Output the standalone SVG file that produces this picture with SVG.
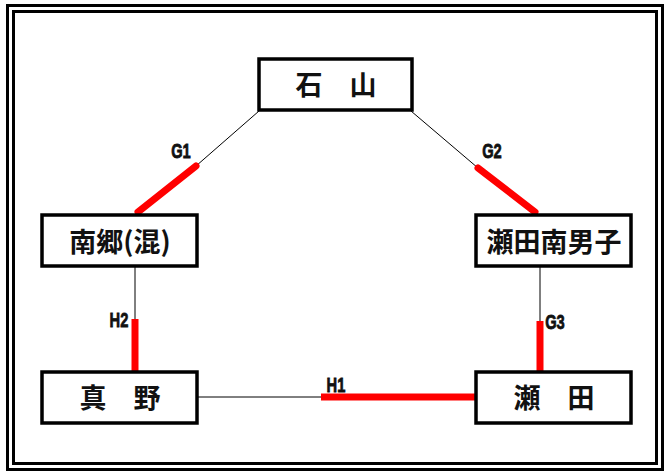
<svg xmlns="http://www.w3.org/2000/svg" width="669" height="475" viewBox="0 0 669 475">
<style>
.frame{fill:none;stroke:#000;stroke-width:3}
.box{fill:#fff;stroke:#000;stroke-width:3.5}
.name{font-family:"Noto Sans CJK JP","Noto Sans CJK SC",sans-serif;font-size:27px;font-weight:bold;fill:#111;text-anchor:middle}
.thin{stroke:#000;stroke-width:1;fill:none}
.red{stroke:#f00;stroke-width:7;fill:none;stroke-linecap:round}
.redh{stroke:#f00;stroke-width:7;fill:none}
.lbl{font-family:"Liberation Sans",Arial,sans-serif;font-size:21px;font-weight:bold;fill:#111;stroke:#111;stroke-width:0.8;text-anchor:middle}
</style>
<rect x="0" y="0" width="669" height="475" fill="#fff"/>
<rect class="frame" x="7.5" y="5.5" width="655" height="464"/>
<rect class="frame" x="13.5" y="11.5" width="643" height="452"/>
<g id="connectors">
<line class="thin" x1="259" y1="111" x2="196" y2="166"/>
<line class="red" x1="196" y1="166" x2="138" y2="212"/>
<text class="lbl" x="181" y="158" transform="translate(181 0) scale(0.7 1) translate(-181 0)">G1</text>
<line class="thin" x1="411" y1="111" x2="478" y2="168"/>
<line class="red" x1="478" y1="168" x2="535" y2="212"/>
<text class="lbl" x="492" y="158" transform="translate(492 0) scale(0.7 1) translate(-492 0)">G2</text>
<line class="thin" x1="540" y1="266" x2="540" y2="322"/>
<line class="redh" x1="540" y1="321" x2="540" y2="371"/>
<text class="lbl" x="555" y="329" transform="translate(555 0) scale(0.7 1) translate(-555 0)">G3</text>
<line class="thin" x1="135" y1="266" x2="135" y2="320"/>
<line class="redh" x1="135" y1="319" x2="135" y2="371"/>
<text class="lbl" x="119" y="327" transform="translate(119 0) scale(0.7 1) translate(-119 0)">H2</text>
<line class="thin" x1="197" y1="397" x2="322" y2="397"/>
<line class="redh" x1="321" y1="397" x2="476" y2="397"/>
<text class="lbl" x="336" y="392" transform="translate(336 0) scale(0.7 1) translate(-336 0)">H1</text>
</g>
<g id="ishiyama">
<rect class="box" x="259" y="59" width="153" height="51"/>
<text class="name" x="336" y="95">石　山</text>
</g>
<g id="nango">
<rect class="box" x="42" y="215" width="155" height="51"/>
<text class="name" x="120" y="252">南郷(混)</text>
</g>
<g id="setaminamioji">
<rect class="box" x="476" y="215" width="155" height="51"/>
<text class="name" x="554" y="252">瀬田南男子</text>
</g>
<g id="shinno">
<rect class="box" x="42" y="372" width="155" height="51"/>
<text class="name" x="120" y="408">真　野</text>
</g>
<g id="seta">
<rect class="box" x="476" y="372" width="155" height="51"/>
<text class="name" x="554" y="408">瀬　田</text>
</g>
</svg>
